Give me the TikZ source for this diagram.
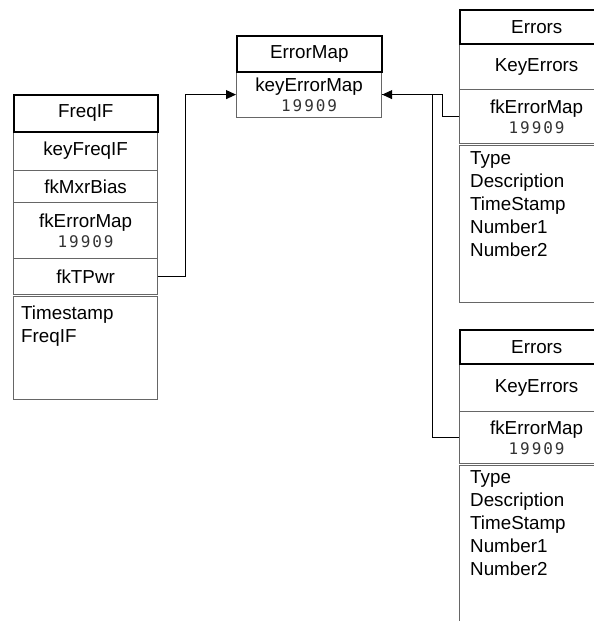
\documentclass[tikz,border=0pt]{standalone}
\usepackage{fontspec}
\setmainfont{Liberation Sans}
\newfontfamily\codefont[LetterSpace=12]{DejaVu Sans Mono}
\usetikzlibrary{arrows.meta}
\definecolor{linegray}{HTML}{666666}
\definecolor{codegray}{HTML}{333333}
\newcommand{\txt}{\fontsize{18.8bp}{23bp}\selectfont}
\newcommand{\code}[1]{{\codefont\fontsize{16bp}{18bp}\selectfont\color{codegray}#1}}
\tikzset{
  tabletitle/.style={draw=black, line width=1.6bp, anchor=north west, inner sep=0pt, font=\txt},
  field/.style={draw=linegray, line width=1.2bp, anchor=north west, inner sep=0pt, font=\txt, align=center},
  attrbox/.style={draw=linegray, line width=1.2bp, anchor=north west, inner sep=0pt},
  attrtext/.style={anchor=north west, inner sep=0pt, align=left, font=\txt},
  conn/.style={draw=black, line width=1bp},
  tip/.style={-{Triangle[length=10bp,width=9bp]}}
}
\begin{document}
\begin{tikzpicture}[x=1bp, y=-1bp]
\useasboundingbox (0,0) rectangle (594,621);
\clip (0,0) rectangle (594,621);

% table FreqIF
\node[field, minimum width=144bp, minimum height=39bp] (f-key) at (13,131) {keyFreqIF};
\node[field, minimum width=144bp, minimum height=32bp] (f-bias) at (13,170) {fkMxrBias};
\node[field, minimum width=144bp, minimum height=56bp] (f-err) at (13,202) {fkErrorMap\\[-3bp]\code{19909}};
\node[field, minimum width=144bp, minimum height=36bp] (f-tpwr) at (13,258) {fkTPwr};
\node[attrbox, minimum width=144bp, minimum height=103bp] (f-attr) at (13,296) {};
\node[attrtext] (f-attrtext) at (21,306) {Timestamp\\FreqIF};
\node[tabletitle, minimum width=144bp, minimum height=37bp] (f-title) at (13,94) {FreqIF};

% table ErrorMap
\node[field, minimum width=145bp, minimum height=46bp] (em-key) at (236,71) {keyErrorMap\\[-3bp]\code{19909}};
\node[tabletitle, minimum width=145bp, minimum height=36bp] (em-title) at (236,35) {ErrorMap};

% table Errors (upper)
\node[field, minimum width=154bp, minimum height=46bp] (e1-key) at (459,43) {KeyErrors};
\node[field, minimum width=154bp, minimum height=54bp] (e1-fk) at (459,89) {fkErrorMap\\[-3bp]\code{19909}};
\node[attrbox, minimum width=154bp, minimum height=157bp] (e1-attr) at (459,145) {};
\node[attrtext] (e1-attrtext) at (470,151) {Type\\Description\\TimeStamp\\Number1\\Number2};
\node[tabletitle, minimum width=154bp, minimum height=34bp] (e1-title) at (459,9) {Errors};

% table Errors (lower)
\node[field, minimum width=154bp, minimum height=48bp] (e2-key) at (459,363) {KeyErrors};
\node[field, minimum width=154bp, minimum height=52bp] (e2-fk) at (459,411) {fkErrorMap\\[-3bp]\code{19909}};
\node[attrbox, minimum width=154bp, minimum height=190bp] (e2-attr) at (459,465) {};
\node[attrtext] (e2-attrtext) at (470,470) {Type\\Description\\TimeStamp\\Number1\\Number2};
\node[tabletitle, minimum width=154bp, minimum height=34bp] (e2-title) at (459,329) {Errors};

% relationships
\draw[conn, tip] (f-tpwr.east) -- ++(27,0) |- (em-key.west);
\draw[conn, tip] (e1-fk.west) -- ++(-17,0) |- (em-key.east);
\draw[conn] (e2-fk.west) -- ++(-27,0) |- (em-key.east);
\end{tikzpicture}
\end{document}
